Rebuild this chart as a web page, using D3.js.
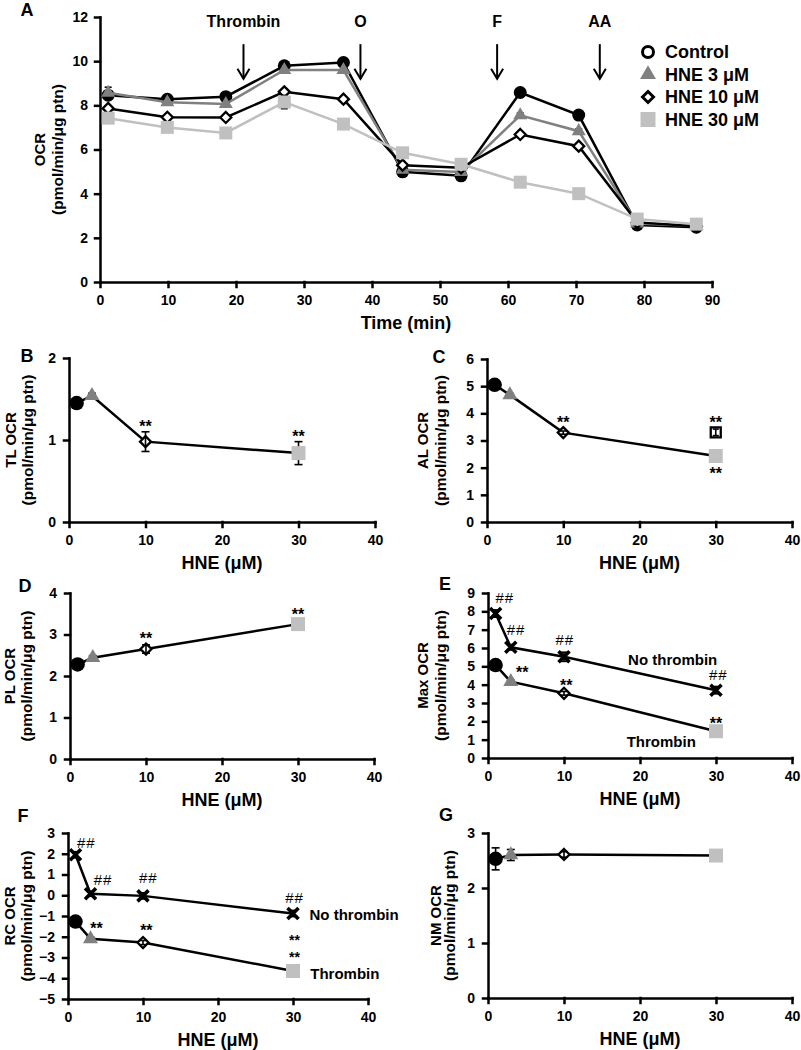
<!DOCTYPE html>
<html><head><meta charset="utf-8">
<script src="https://cdn.jsdelivr.net/npm/d3@7"></script>
<style>
body{margin:0;background:#fff}
svg{display:block}
</style></head><body>
<svg id="chart" width="801" height="1050"></svg>
<script>
// ---------------- Panel A data ----------------
const timeMin = [1.2, 9.9, 18.5, 27.1, 35.8, 44.5, 53.1, 61.8, 70.4, 79.0, 87.7];
const ocrControl = [8.46, 8.27, 8.39, 9.79, 9.94, 4.99, 4.81, 8.58, 7.56, 2.58, 2.48];
const ocrHNE3    = [8.57, 8.14, 8.06, 9.60, 9.60, 5.08, 4.98, 7.55, 6.83, 2.65, 2.55];
const ocrHNE10   = [7.86, 7.46, 7.45, 8.61, 8.28, 5.29, 5.17, 6.68, 6.15, 2.70, 2.52];
const ocrHNE30   = [7.42, 7.00, 6.75, 8.15, 7.15, 5.85, 5.33, 4.52, 4.00, 2.85, 2.62];
const ocrErrControl = [0.15, 0.08, 0.08, 0.10, 0.10, 0.10, 0.10, 0.10, 0.10, 0.08, 0.05];
const ocrErrHNE3    = [0.25, 0.08, 0.08, 0.10, 0.10, 0.10, 0.10, 0.10, 0.10, 0.08, 0.05];
const ocrErrHNE10   = [0.12, 0.08, 0.08, 0.10, 0.10, 0.10, 0.10, 0.10, 0.10, 0.08, 0.05];
const ocrErrHNE30   = [0.10, 0.08, 0.08, 0.30, 0.10, 0.10, 0.10, 0.10, 0.10, 0.08, 0.05];
const legendLabels = ['Control', 'HNE 3 μM', 'HNE 10 μM', 'HNE 30 μM'];
const injectionLabels = ['Thrombin', 'O', 'F', 'AA'];
const injectionTimes = [21.1, 38.3, 58.4, 73.5];
const timeTicks = [0, 10, 20, 30, 40, 50, 60, 70, 80, 90];
const ocrTicks = [0, 2, 4, 6, 8, 10, 12];

// ---------------- Panels B-G data ----------------
const hneDoses = [1, 3, 10, 30];
const hneTicks = [0, 10, 20, 30, 40];
const tlOCR = [1.45, 1.54, 0.98, 0.84];
const tlErr = [0.05, 0.03, 0.12, 0.14];
const alOCR = [5.05, 4.68, 3.29, 2.43];
const alErr = [0.05, 0.05, 0.06, 0.06];
const alExtraDose = 30, alExtraOCR = 3.30, alExtraErr = 0.12;
const plOCR = [2.28, 2.44, 2.65, 3.25];
const plErr = [0.05, 0.05, 0.10, 0.05];
const maxThrombin = [5.07, 4.16, 3.53, 1.46];
const maxThrombinErr = [0.10, 0.08, 0.10, 0.08];
const maxNoThrombin = [7.88, 6.04, 5.52, 3.70];
const maxNoThrombinErr = [0.20, 0.15, 0.25, 0.20];
const rcThrombin = [-1.27, -2.10, -2.28, -3.65];
const rcThrombinErr = [0.10, 0.08, 0.10, 0.08];
const rcNoThrombin = [1.95, 0.07, -0.03, -0.88];
const rcNoThrombinErr = [0.15, 0.12, 0.15, 0.15];
const nmOCR = [2.53, 2.60, 2.61, 2.59];
const nmErr = [0.20, 0.10, 0.05, 0.03];

// significance marks (visual centres in data units)
const sigB = [{x: 10, y: 1.21, t: '**'}, {x: 30, y: 1.09, t: '**'}];
const sigC = [{x: 10, y: 3.80, t: '**'}, {x: 30, y: 3.80, t: '**'}, {x: 30, y: 1.92, t: '**'}];
const sigD = [{x: 10, y: 3.00, t: '**'}, {x: 30, y: 3.56, t: '**'}];
const sigE = [{x: 2.2, y: 8.75, t: '##'}, {x: 3.7, y: 7.01, t: '##'}, {x: 10.1, y: 6.47, t: '##'}, {x: 30.3, y: 4.53, t: '##'},
              {x: 4.5, y: 4.84, t: '**'}, {x: 10.3, y: 4.16, t: '**'}, {x: 30.0, y: 2.08, t: '**'}];
const sigF = [{x: 2.45, y: 2.52, t: '##'}, {x: 4.67, y: 0.74, t: '##'}, {x: 10.7, y: 0.83, t: '##'}, {x: 30.2, y: -0.09, t: '##'},
              {x: 3.8, y: -1.43, t: '**'}, {x: 10.45, y: -1.54, t: '**'},
              {x: 30.2, y: -2.02, t: '**', fs: 14}, {x: 30.2, y: -2.82, t: '**', fs: 14}];
const seriesLabelsE = [{x: 24.3, y: 5.35, t: 'No thrombin', a: 'middle'}, {x: 22.8, y: 0.90, t: 'Thrombin', a: 'middle'}];
const seriesLabelsF = [{x: 32.2, y: -0.95, t: 'No thrombin', a: 'start'}, {x: 32.3, y: -3.76, t: 'Thrombin', a: 'start'}];

// ---------------- drawing ----------------
const FONT = '"Liberation Sans", Arial, Helvetica, sans-serif';
const svg = d3.select('#chart').attr('font-family', FONT);
const GRAY = '#808080', LIGHT = '#c0c0c0';
const doseStyles = [
  {type: 'circle', fill: '#000', stroke: 'none'},
  {type: 'triangle', fill: GRAY, stroke: 'none'},
  {type: 'diamond', fill: '#fff', stroke: '#000'},
  {type: 'square', fill: LIGHT, stroke: 'none'}
];

function markerPath(type, s) {
  if (type === 'circle') return d3.symbol().type(d3.symbolCircle).size(Math.PI * s * s / 4)();
  if (type === 'triangle') return d3.symbol().type(d3.symbolTriangle).size(Math.sqrt(3) / 4 * s * s)();
  if (type === 'square') return d3.symbol().type(d3.symbolSquare).size(s * s)();
  if (type === 'diamond') { const h = s / 2; return `M0,${-h}L${h},0L0,${h}L${-h},0Z`; }
  if (type === 'x') { const h = s / 2; return `M${-h},${-h}L${h},${h}M${h},${-h}L${-h},${h}`; }
}

function drawMarker(g, st, px, py, size) {
  const p = g.append('path').attr('d', markerPath(st.type, size))
    .attr('transform', `translate(${px},${py})`);
  if (st.type === 'x') {
    p.attr('fill', 'none').attr('stroke', '#000').attr('stroke-width', 3.6);
  } else {
    p.attr('fill', st.fill).attr('stroke', st.stroke).attr('stroke-width', st.stroke === 'none' ? 0 : 2.3);
  }
}

function drawErr(g, px, y, v, e, capW) {
  const y1 = y(v - e), y2 = y(v + e);
  const eg = g.append('g').attr('stroke', '#000').attr('stroke-width', 1.6);
  eg.append('line').attr('x1', px).attr('x2', px).attr('y1', y1).attr('y2', y2);
  eg.append('line').attr('x1', px - capW / 2).attr('x2', px + capW / 2).attr('y1', y1).attr('y2', y1);
  eg.append('line').attr('x1', px - capW / 2).attr('x2', px + capW / 2).attr('y1', y2).attr('y2', y2);
}

function makePanel(cfg) {
  const x = d3.scaleLinear().domain(cfg.xDomain).range(cfg.xRange);
  const y = d3.scaleLinear().domain(cfg.yDomain).range(cfg.yRange);
  const g = svg.append('g');
  const gx = g.append('g').attr('transform', `translate(0,${cfg.yRange[0]})`)
    .call(d3.axisBottom(x).tickValues(cfg.xTicks).tickSize(5).tickSizeOuter(0).tickPadding(8).tickFormat(d3.format('d')));
  const gy = g.append('g').attr('transform', `translate(${cfg.xRange[0]},0)`)
    .call(d3.axisLeft(y).tickValues(cfg.yTicks).tickSize(5).tickSizeOuter(0).tickPadding(cfg.yPad).tickFormat(d3.format('d')));
  [gx, gy].forEach(a => {
    a.attr('font-family', FONT).attr('font-size', 14).attr('font-weight', 'bold');
    a.selectAll('.domain, .tick line').attr('stroke', '#000').attr('stroke-width', 2.5).attr('stroke-linecap', 'square');
    a.selectAll('.tick text').attr('fill', '#000');
  });
  g.append('text').attr('x', (cfg.xRange[0] + cfg.xRange[1]) / 2).attr('y', cfg.yRange[0] + 47)
    .attr('text-anchor', 'middle').attr('font-size', 18).attr('font-weight', 'bold').text(cfg.xTitle);
  const cy = (cfg.yRange[0] + cfg.yRange[1]) / 2;
  g.append('text').attr('transform', `translate(${cfg.yTitleX},${cy}) rotate(-90)`).attr('dy', '0.35em')
    .attr('text-anchor', 'middle').attr('font-size', 15).attr('font-weight', 'bold').text(cfg.yTitle);
  g.append('text').attr('transform', `translate(${cfg.yParenX},${cy}) rotate(-90)`).attr('dy', '0.35em')
    .attr('text-anchor', 'middle').attr('font-size', 15.5).attr('font-weight', 'bold').text('(pmol/min/μg ptn)');
  g.append('text').attr('x', cfg.letterPos[0]).attr('y', cfg.letterPos[1]).attr('dy', '0.36em')
    .attr('text-anchor', 'middle').attr('font-size', 18).attr('font-weight', 'bold').text(cfg.letter);
  return {g, x, y};
}

function sigText(p, list) {
  list.forEach(s => {
    const star = s.t === '**';
    p.g.append('text').attr('x', p.x(s.x)).attr('y', p.y(s.y))
      .attr('dy', star ? '0.57em' : '0.36em')
      .attr('text-anchor', 'middle')
      .attr('font-size', s.fs || (star ? 16 : 15))
      .attr('font-weight', star ? 'bold' : 'normal')
      .attr('letter-spacing', star ? 0 : 1)
      .text(s.t);
  });
}

function labelText(p, list) {
  list.forEach(s => {
    p.g.append('text').attr('x', p.x(s.x)).attr('y', p.y(s.y)).attr('dy', '0.35em')
      .attr('text-anchor', s.a).attr('font-size', 15).attr('font-weight', 'bold').text(s.t);
  });
}

function doseSeries(p, vals, errs, styles, sizes) {
  const line = d3.line().x((d, i) => p.x(hneDoses[i])).y(d => p.y(d));
  p.g.append('path').datum(vals).attr('d', line).attr('fill', 'none').attr('stroke', '#000').attr('stroke-width', 2.5);
  vals.forEach((v, i) => {
    const st = styles[i];
    const over = st.fill === '#fff' || st.type === 'x';
    if (!over) drawErr(p.g, p.x(hneDoses[i]), p.y, v, errs[i], 8);
    drawMarker(p.g, st, p.x(hneDoses[i]), p.y(v), sizes[st.type]);
    if (over) drawErr(p.g, p.x(hneDoses[i]), p.y, v, errs[i], 8);
  });
}
const doseSizes = {circle: 14.5, triangle: 15, diamond: 11, square: 14, x: 11};
const xStyle = {type: 'x'};
const xStyles = [xStyle, xStyle, xStyle, xStyle];

// ---------- Panel A ----------
const pA = makePanel({
  xDomain: [0, 90], xRange: [100, 712], yDomain: [0, 12], yRange: [282, 17],
  xTicks: timeTicks, yTicks: ocrTicks, yPad: 7,
  xTitle: 'Time (min)', yTitle: 'OCR', yTitleX: 40, yParenX: 58, letter: 'A', letterPos: [27, 10]
});
const seriesA = [
  {vals: ocrControl, errs: ocrErrControl, color: '#000', st: doseStyles[0]},
  {vals: ocrHNE3, errs: ocrErrHNE3, color: GRAY, st: doseStyles[1]},
  {vals: ocrHNE10, errs: ocrErrHNE10, color: '#000', st: doseStyles[2]},
  {vals: ocrHNE30, errs: ocrErrHNE30, color: LIGHT, st: doseStyles[3]}
];
const sizesA = {circle: 13, triangle: 14, diamond: 11, square: 13};
seriesA.forEach(s => {
  const line = d3.line().x((d, i) => pA.x(timeMin[i])).y(d => pA.y(d));
  pA.g.append('path').datum(s.vals).attr('d', line).attr('fill', 'none').attr('stroke', s.color).attr('stroke-width', 2.5);
  s.vals.forEach((v, i) => {
    drawErr(pA.g, pA.x(timeMin[i]), pA.y, v, s.errs[i], 7);
    drawMarker(pA.g, s.st, pA.x(timeMin[i]), pA.y(v), sizesA[s.st.type]);
  });
});
injectionLabels.forEach((lab, i) => {
  const ax = pA.x(injectionTimes[i]);
  pA.g.append('text').attr('x', ax).attr('y', pA.y(11.55)).attr('text-anchor', 'middle')
    .attr('font-size', 16).attr('font-weight', 'bold').text(lab);
  const yt = pA.y(10.77), yb = pA.y(9.2);
  pA.g.append('line').attr('x1', ax).attr('x2', ax).attr('y1', yt).attr('y2', yb).attr('stroke', '#000').attr('stroke-width', 2);
  pA.g.append('path').attr('d', `M${ax - 6},${yb - 10}L${ax},${yb}L${ax + 6},${yb - 10}`)
    .attr('fill', 'none').attr('stroke', '#000').attr('stroke-width', 2);
});
const legStyles = [
  {type: 'circle', fill: '#fff', stroke: '#000'},
  doseStyles[1], doseStyles[2], doseStyles[3]
];
const legSizes = {circle: 11, triangle: 16, diamond: 11, square: 15};
legendLabels.forEach((lab, i) => {
  const ly = 52 + i * 22.5;
  const st = legStyles[i];
  pA.g.append('path').attr('d', markerPath(st.type, legSizes[st.type])).attr('transform', `translate(648,${ly})`)
    .attr('fill', st.fill).attr('stroke', st.stroke).attr('stroke-width', st.stroke === 'none' ? 0 : 3);
  pA.g.append('text').attr('x', 665).attr('y', ly).attr('dy', '0.36em').attr('font-size', 18)
    .attr('font-weight', 'bold').text(lab);
});

// ---------- Panel B ----------
const pB = makePanel({
  xDomain: [0, 40], xRange: [69, 375], yDomain: [0, 2], yRange: [522, 358],
  xTicks: hneTicks, yTicks: [0, 1, 2], yPad: 8,
  xTitle: 'HNE (μM)', yTitle: 'TL OCR', yTitleX: 11, yParenX: 28, letter: 'B', letterPos: [27, 356]
});
doseSeries(pB, tlOCR, tlErr, doseStyles, doseSizes);
sigText(pB, sigB);

// ---------- Panel C ----------
const pC = makePanel({
  xDomain: [0, 40], xRange: [487, 792], yDomain: [0, 6], yRange: [522, 359],
  xTicks: hneTicks, yTicks: [0, 1, 2, 3, 4, 5, 6], yPad: 8,
  xTitle: 'HNE (μM)', yTitle: 'AL OCR', yTitleX: 423, yParenX: 441, letter: 'C', letterPos: [439, 357]
});
doseSeries(pC, alOCR, alErr, doseStyles, doseSizes);
drawMarker(pC.g, {type: 'square', fill: '#fff', stroke: '#000'}, pC.x(alExtraDose), pC.y(alExtraOCR), 10);
drawErr(pC.g, pC.x(alExtraDose), pC.y, alExtraOCR, alExtraErr, 6);
sigText(pC, sigC);

// ---------- Panel D ----------
const pD = makePanel({
  xDomain: [0, 40], xRange: [70, 374], yDomain: [0, 4], yRange: [759, 593],
  xTicks: hneTicks, yTicks: [0, 1, 2, 3, 4], yPad: 8,
  xTitle: 'HNE (μM)', yTitle: 'PL OCR', yTitleX: 10, yParenX: 27, letter: 'D', letterPos: [25, 586]
});
doseSeries(pD, plOCR, plErr, doseStyles, doseSizes);
sigText(pD, sigD);

// ---------- Panel E ----------
const pE = makePanel({
  xDomain: [0, 40], xRange: [488, 792], yDomain: [0, 9], yRange: [758, 593],
  xTicks: hneTicks, yTicks: d3.range(0, 10), yPad: 8,
  xTitle: 'HNE (μM)', yTitle: 'Max OCR', yTitleX: 423, yParenX: 441, letter: 'E', letterPos: [445, 584]
});
doseSeries(pE, maxNoThrombin, maxNoThrombinErr, xStyles, doseSizes);
doseSeries(pE, maxThrombin, maxThrombinErr, doseStyles, doseSizes);
sigText(pE, sigE);
labelText(pE, seriesLabelsE);

// ---------- Panel F ----------
const pF = makePanel({
  xDomain: [0, 40], xRange: [68, 368], yDomain: [-5, 3], yRange: [999, 833],
  xTicks: hneTicks, yTicks: d3.range(-5, 4), yPad: 8,
  xTitle: 'HNE (μM)', yTitle: 'RC OCR', yTitleX: 10, yParenX: 27, letter: 'F', letterPos: [23, 816]
});
doseSeries(pF, rcNoThrombin, rcNoThrombinErr, xStyles, doseSizes);
doseSeries(pF, rcThrombin, rcThrombinErr, doseStyles, doseSizes);
sigText(pF, sigF);
labelText(pF, seriesLabelsF);

// ---------- Panel G ----------
const pG = makePanel({
  xDomain: [0, 40], xRange: [488, 792], yDomain: [0, 3], yRange: [998, 833],
  xTicks: hneTicks, yTicks: [0, 1, 2, 3], yPad: 8,
  xTitle: 'HNE (μM)', yTitle: 'NM OCR', yTitleX: 436, yParenX: 450, letter: 'G', letterPos: [446, 815]
});
doseSeries(pG, nmOCR, nmErr, doseStyles, doseSizes);
</script>
</body></html>
